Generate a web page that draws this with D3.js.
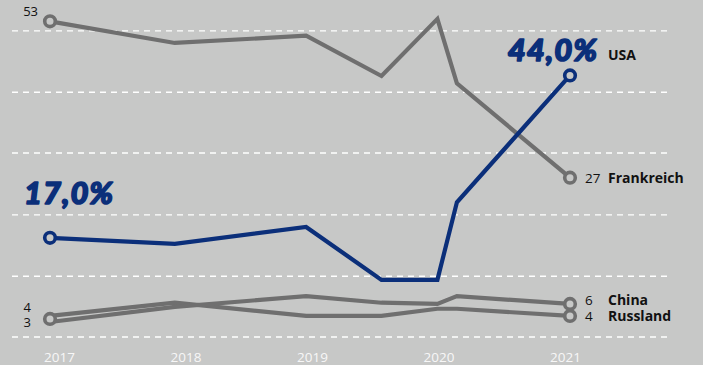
<!DOCTYPE html>
<html>
<head>
<meta charset="utf-8">
<script src="https://cdn.jsdelivr.net/npm/d3@7"></script>
<style>
  html, body { margin: 0; padding: 0; background: #c7c8c7; }
  svg { display: block; }
</style>
</head>
<body>
<svg id="chart" width="703" height="365"></svg>
<script>
// ---- data ----
const dates = [2017, 2017.96, 2018.97, 2019.55, 2019.98, 2020.13, 2021];
const frankreich = [53, 49.4, 50.6, 43.9, 53.4, 42.7, 27];
const usa = [17, 16.0, 18.8, 10.0, 10.0, 22.9, 44];
const china = [3, 5.5, 7.3, 6.2, 6.0, 7.3, 6];
const russland = [4, 6.2, 4.0, 4.0, 5.2, 5.2, 4];
const seriesNames = ["Frankreich", "USA", "China", "Russland"];
const yearLabels = ["2017", "2018", "2019", "2020", "2021"];
const gridValues = [0.5, 10.6, 20.8, 31.1, 41.2, 51.4];

const svg = d3.select("#chart");
const bg = "#c7c8c7";
const grey = "#6f6f6f";
const blue = "#0b2f7a";

const x = d3.scaleLinear().domain([2017, 2021]).range([50, 570]);
const xTick = d3.scalePoint().domain(yearLabels).range([59, 565]);
const y = d3.scaleLinear().domain([0, 53]).range([340, 340 - 53 * 6.013]);

// gridlines
svg.append("g").selectAll("line").data(gridValues).join("line")
  .attr("x1", 12).attr("x2", 670)
  .attr("y1", d => y(d)).attr("y2", d => y(d))
  .attr("stroke", "#ffffff").attr("stroke-width", 1.3)
  .attr("stroke-dasharray", "6,5");

// x axis labels
const xAxis = d3.axisBottom(xTick).tickSize(0).tickPadding(0);
const gx = svg.append("g").attr("transform", "translate(0,352)").call(xAxis);
gx.select(".domain").remove();
gx.selectAll("text")
  .attr("fill", "#f7f7f7")
  .style("font-family", "'Open Sans', sans-serif")
  .style("font-size", "13.5px");

const series = [
  { name: "Russland", values: russland, color: grey },
  { name: "China", values: china, color: grey },
  { name: "Frankreich", values: frankreich, color: grey },
  { name: "USA", values: usa, color: blue }
];

const line = d3.line().x((d, i) => x(dates[i])).y(d => y(d));

svg.append("g").selectAll("path").data(series).join("path")
  .attr("d", s => line(s.values))
  .attr("fill", "none")
  .attr("stroke", s => s.color)
  .attr("stroke-width", 4.2)
  .attr("stroke-linejoin", "miter");

// endpoint circles
const last = dates.length - 1;
const ends = [
  { cx: x(dates[0]), cy: y(frankreich[0]), color: grey },
  { cx: x(dates[0]), cy: y(usa[0]), color: blue },
  { cx: x(dates[0]), cy: (y(china[0]) + y(russland[0])) / 2, color: grey }
];
series.forEach(s => ends.push({ cx: x(dates[last]), cy: y(s.values[last]), color: s.color }));
svg.append("g").selectAll("circle").data(ends).join("circle")
  .attr("cx", d => d.cx)
  .attr("cy", d => d.cy)
  .attr("r", 5.3)
  .attr("fill", bg)
  .attr("stroke", d => d.color)
  .attr("stroke-width", 3.6);

const small = "'Open Sans', 'Noto Sans', sans-serif";

// right-hand labels
const rightLab = [
  { s: series[2], dy: 5 },
  { s: series[3], dy: -15 },
  { s: series[1], dy: 1.5 },
  { s: series[0], dy: 5 }
];
rightLab.forEach(r => {
  const v = r.s.values[last];
  const cy = y(v) + r.dy;
  if (r.s.name !== "USA") {
    svg.append("text").attr("x", x(dates[last]) + 15).attr("y", cy)
      .attr("fill", "#111").style("font-family", small).style("font-size", "13.5px")
      .text(d3.format("d")(v));
  }
  svg.append("text").attr("x", x(dates[last]) + 38).attr("y", cy)
    .attr("fill", "#111").style("font-family", small).style("font-size", "14px")
    .style("font-weight", "700")
    .text(r.s.name);
});

// left-hand labels
const leftText = (v, xx, yy) => svg.append("text").attr("x", xx).attr("y", yy)
  .attr("text-anchor", "end").attr("fill", "#111")
  .style("font-family", small).style("font-size", "13px").text(v);
leftText(frankreich[0], 38, y(frankreich[0]) - 5);
leftText(russland[0], 31, y(russland[0]) - 4);
leftText(china[0], 31, y(china[0]) + 5);

// big percentage labels
const pct = d3.format(".1f");
const big = (t, xx, yy, anchor) => svg.append("text")
  .attr("x", xx).attr("y", yy).attr("text-anchor", anchor)
  .attr("fill", blue)
  .attr("stroke", blue).attr("stroke-width", 1.6).attr("stroke-linejoin", "round")
  .style("font-family", "Lato, 'Open Sans', sans-serif")
  .style("font-size", "31px").style("font-weight", "900").style("font-style", "italic")
  .style("letter-spacing", "1px")
  .text(t);
big(pct(usa[0]).replace(".", ",") + "%", x(dates[0]) - 26, y(usa[0]) - 34, "start");
big(pct(usa[last]).replace(".", ",") + "%", x(dates[last]) + 28, y(usa[last]) - 14, "end");
</script>
</body>
</html>
